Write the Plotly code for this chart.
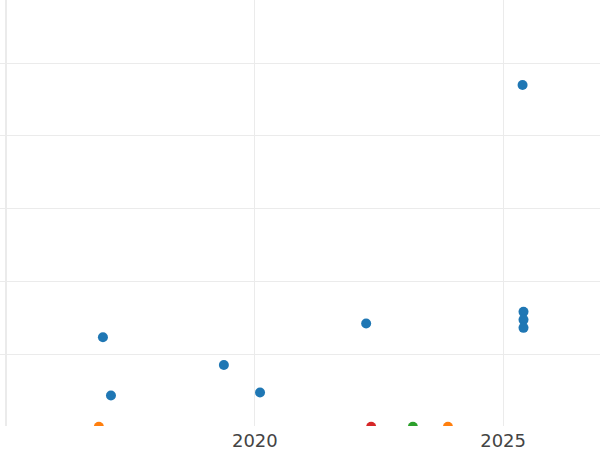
import plotly.graph_objects as go

# Data (y in arbitrary units, gridline step = 10)
blue_dates = ["2016-12-09", "2017-02-06", "2019-05-18", "2020-02-08", "2022-03-30",
              "2025-05-24", "2025-05-31", "2025-05-31", "2025-05-31"]
blue_vals = [12.3, 4.3, 8.5, 4.7, 14.2, 47.0, 15.8, 14.7, 13.6]

orange_dates = ["2016-11-09", "2023-11-22"]
orange_vals = [0, 0]

green_dates = ["2023-03-09"]
green_vals = [0]

red_dates = ["2022-05-06"]
red_vals = [0]

series = [
    (blue_dates, blue_vals, "#1f77b4"),
    (orange_dates, orange_vals, "#ff7f0e"),
    (green_dates, green_vals, "#2ca02c"),
    (red_dates, red_vals, "#d62728"),
]

fig = go.Figure()
for d, v, c in series:
    fig.add_trace(go.Scatter(x=d, y=v, mode="markers",
                             marker=dict(color=c, size=10),
                             showlegend=False))

grid = "#ebebeb"
fig.update_layout(
    width=600, height=450,
    margin=dict(l=7, r=0, t=0, b=24),
    plot_bgcolor="white", paper_bgcolor="white",
    font=dict(family="DejaVu Sans", size=18, color="#444444"),
    xaxis=dict(type="date", range=["2015-01-03", "2026-12-15"],
               dtick="M60", tick0="2015-01-01",
               showgrid=True, gridcolor=grid, gridwidth=1,
               zeroline=False, showline=False, ticks="",
               ticklabelstandoff=2, automargin=False),
    yaxis=dict(range=[0.1, 58.7], dtick=10, tick0=0,
               showgrid=True, gridcolor=grid, gridwidth=1,
               zeroline=False, showline=True, linecolor=grid, linewidth=2,
               ticks="outside", ticklen=7, tickcolor=grid, tickwidth=1,
               showticklabels=False, automargin=False),
)

fig.write_html("out.html", config={"displayModeBar": False},
               post_script="document.body.style.margin='0';document.body.style.padding='0';")
